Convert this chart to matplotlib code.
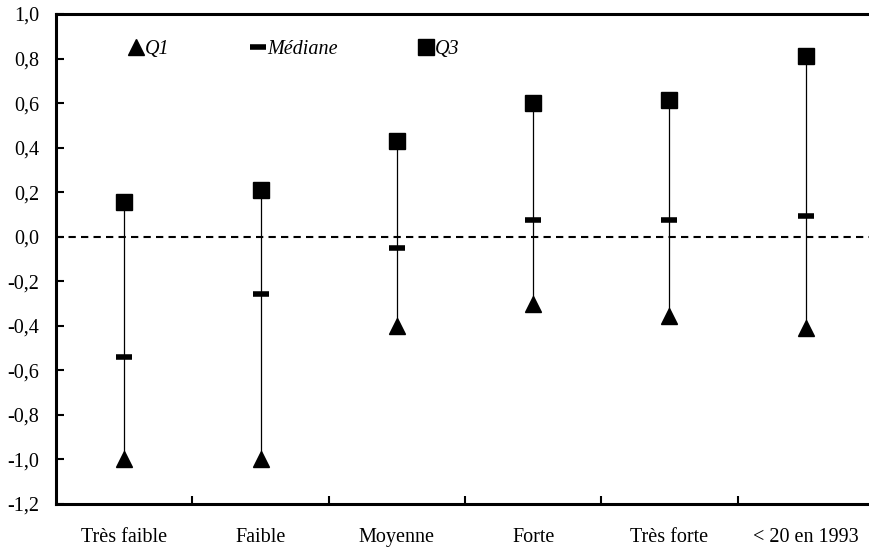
import matplotlib
matplotlib.use("Agg")
import matplotlib.pyplot as plt
from matplotlib.lines import Line2D
import numpy as np

categories = ["Très faible", "Faible", "Moyenne", "Forte", "Très forte", "< 20 en 1993"]
q1 = [-1.00, -1.00, -0.40, -0.30, -0.355, -0.41]
mediane = [-0.54, -0.255, -0.05, 0.075, 0.073, 0.093]
q3 = [0.155, 0.21, 0.43, 0.60, 0.615, 0.81]
yticks = [1.0, 0.8, 0.6, 0.4, 0.2, 0.0, -0.2, -0.4, -0.6, -0.8, -1.0, -1.2]

plt.rcParams['font.family'] = ['Liberation Serif', 'DejaVu Serif']
FS = 14.5

W, H = 869, 549
fig = plt.figure(figsize=(W / 100, H / 100), dpi=100)
left, right, top, bottom = 56, 874, 14, 504
ax = fig.add_axes([left / W, 1 - bottom / H, (right - left) / W, (bottom - top) / H])

x = np.arange(len(categories))
ax.vlines(x, q1, q3, color='black', lw=0.9, zorder=2)
ax.axhline(0, color='black', lw=1.5, ls=(0, (3.5, 2.5)), zorder=1)
ax.plot(x, q1, ls='none', marker='^', ms=11.5, color='black', zorder=3)
ax.plot(x, mediane, ls='none', marker='_', ms=12, mew=4, color='black', zorder=3)
ax.plot(x, q3, ls='none', marker='s', ms=11, color='black', zorder=3)

ax.set_xlim(-0.5, len(categories) - 0.5)
ax.set_ylim(-1.2, 1.0)
ax.set_yticks(yticks)
ax.set_yticklabels([f"{v:.1f}".replace('.', ',') for v in yticks], fontsize=FS)

ax.set_xticks(np.arange(0.5, len(categories) - 0.5, 1.0))
ax.set_xticklabels([])
ax.set_xticks(x, minor=True)
ax.set_xticklabels(categories, minor=True, fontsize=FS)
ax.tick_params(axis='x', which='major', direction='in', length=6, width=1.5)
ax.tick_params(axis='x', which='minor', length=0, pad=17)
ax.tick_params(axis='y', direction='in', length=6, width=1.5, pad=12)

for s in ['left', 'bottom', 'top']:
    ax.spines[s].set_linewidth(2.2)
ax.spines['right'].set_visible(False)

handles = [
    Line2D([], [], ls='none', marker='^', ms=11.5, color='black'),
    Line2D([], [], ls='none', marker='_', ms=12, mew=4, color='black'),
    Line2D([], [], ls='none', marker='s', ms=11, color='black'),
]
leg = ax.legend(handles, ['Q1', 'Médiane', 'Q3'], ncol=3, frameon=False,
                loc='upper left', bbox_to_anchor=(0.068, 0.985),
                handlelength=0.6, handletextpad=0.15, columnspacing=4.1,
                prop={'style': 'italic', 'size': FS})

fig.savefig('out.png', dpi=100)
